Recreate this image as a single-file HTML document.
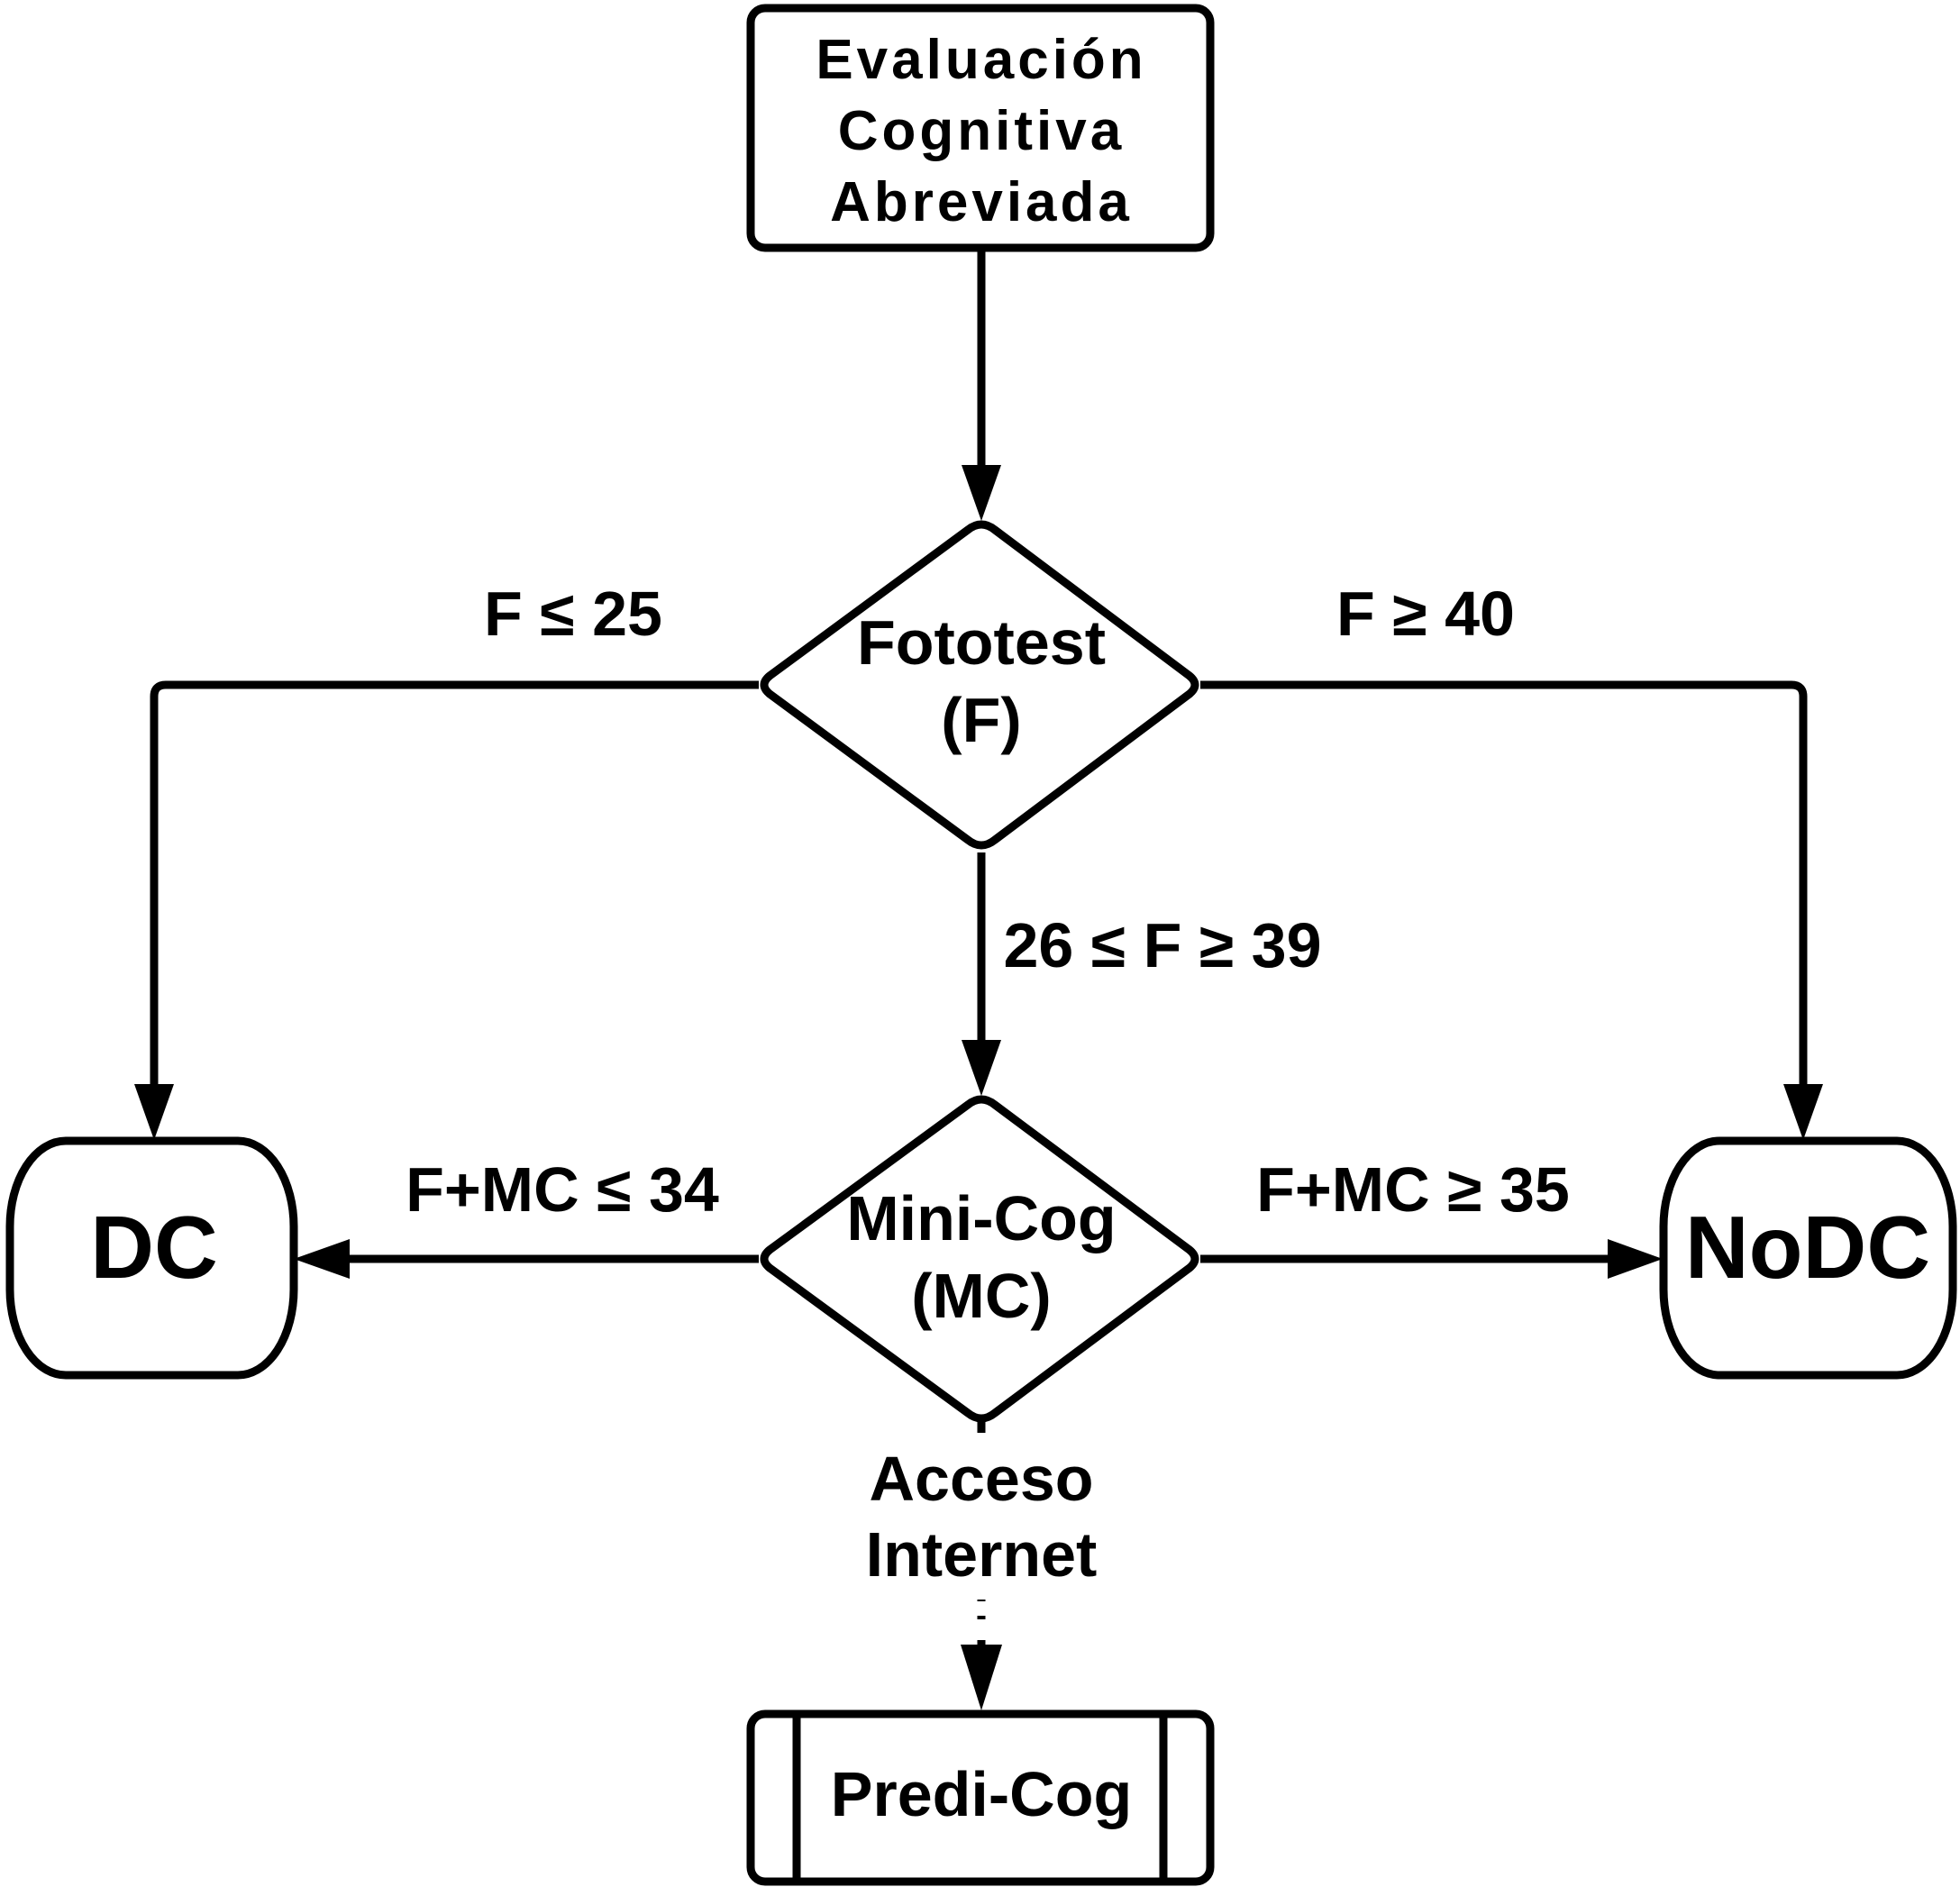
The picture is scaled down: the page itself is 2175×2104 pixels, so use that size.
<!DOCTYPE html>
<html><head><meta charset="utf-8"><style>
html,body{margin:0;padding:0;background:#fff;}
svg{display:block;}
text{font-family:"Liberation Sans",sans-serif;font-weight:bold;fill:#000;text-anchor:middle;}
</style></head><body>
<svg width="2175" height="2104" viewBox="0 0 2175 2104" xmlns="http://www.w3.org/2000/svg">
<g fill="none" stroke="#000" stroke-width="9" stroke-linejoin="round">
<rect x="833" y="9" width="510" height="266" rx="16"/>
<path d="M1074 588 Q1089 576 1104 588 L1320 750 Q1332 760 1320 770 L1104 932 Q1089 944 1074 932 L854 770 Q842 760 854 750 Z"/>
<path d="M1074 1226 Q1089 1214 1104 1226 L1320 1387 Q1332 1397 1320 1407 L1104 1568 Q1089 1580 1074 1568 L854 1407 Q842 1397 854 1387 Z"/>
<rect x="11" y="1266" width="315" height="260" rx="62" ry="95"/>
<rect x="1846" y="1266" width="321" height="260" rx="62" ry="95"/>
<rect x="833" y="1902" width="510" height="186" rx="16"/>
<line x1="884" y1="1902" x2="884" y2="2088"/>
<line x1="1291" y1="1902" x2="1291" y2="2088"/>
<line x1="1089" y1="275" x2="1089" y2="520"/>
<path d="M842 760 L184 760 Q171 760 171 773 L171 1205"/>
<path d="M1332 760 L1988 760 Q2001 760 2001 773 L2001 1205"/>
<line x1="1089" y1="946" x2="1089" y2="1160"/>
<line x1="842" y1="1397" x2="385" y2="1397"/>
<line x1="1332" y1="1397" x2="1790" y2="1397"/>
<line x1="1089" y1="1578" x2="1089" y2="1590"/>
<line x1="1089" y1="1775" x2="1089" y2="1777"/>
<line x1="1089" y1="1793" x2="1089" y2="1797"/>
<line x1="1089" y1="1820" x2="1089" y2="1830"/>
</g>
<g fill="#000">
<path d="M1067 516 L1111 516 L1089 578 Z"/>
<path d="M149 1203 L193 1203 L171 1265 Z"/>
<path d="M1979 1203 L2023 1203 L2001 1265 Z"/>
<path d="M1067 1154 L1111 1154 L1089 1216 Z"/>
<path d="M388 1375 L388 1419 L326 1397 Z"/>
<path d="M1784 1375 L1784 1419 L1845 1397 Z"/>
<path d="M1066 1825 L1112 1825 L1089 1898 Z"/>
</g>
<text x="1089" y="87" font-size="62" letter-spacing="4">Evaluación</text>
<text x="1089" y="166" font-size="62" letter-spacing="4">Cognitiva</text>
<text x="1089" y="245" font-size="62" letter-spacing="4">Abreviada</text>
<text x="1089" y="737" font-size="70">Fototest</text>
<text x="1089" y="823" font-size="70">(F)</text>
<text x="636" y="705" font-size="70">F ≤ 25</text>
<text x="1582" y="705" font-size="70">F ≥ 40</text>
<text x="1290" y="1073" font-size="70">26 ≤ F ≥ 39</text>
<text x="1089" y="1376" font-size="70">Mini-Cog</text>
<text x="1089" y="1462" font-size="70">(MC)</text>
<text x="624" y="1344" font-size="70">F+MC ≤ 34</text>
<text x="1568" y="1344" font-size="70">F+MC ≥ 35</text>
<text x="171" y="1418" font-size="98">DC</text>
<text x="2006" y="1418" font-size="98">NoDC</text>
<text x="1089" y="1665" font-size="70">Acceso</text>
<text x="1089" y="1749" font-size="70">Internet</text>
<text x="1089" y="2015" font-size="70">Predi-Cog</text>
</svg>
</body></html>
